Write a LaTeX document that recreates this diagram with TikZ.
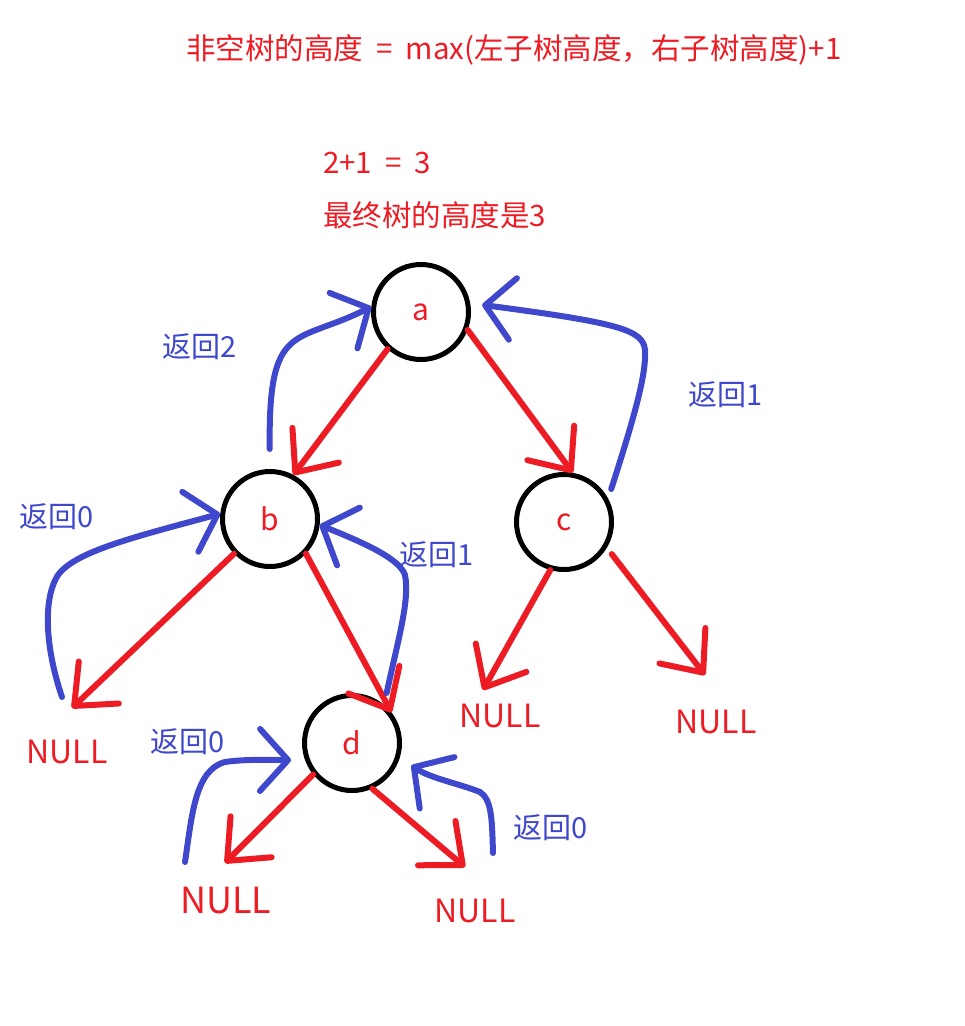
\documentclass[tikz,border=0pt]{standalone}
\usepackage{fontspec}
\setmainfont{Noto Sans CJK SC}
\usetikzlibrary{positioning}
\usetikzlibrary{calc}
\usetikzlibrary{arrows.meta}
\definecolor{paintred}{RGB}{237,28,36}
\definecolor{paintblue}{RGB}{63,72,204}

\begin{document}
\begin{tikzpicture}[x=1pt,y=-1pt,
    treenode/.style={draw, circle, line width=5pt, minimum size=95pt, inner sep=0pt, text=paintred, font=\fontsize{30}{36}\selectfont},
    nulltxt/.style={text=paintred, inner sep=0pt, font=\fontsize{32}{38}\selectfont},
    backtxt/.style={text=paintblue, inner sep=0pt, font=\fontsize{29}{34}\selectfont},
    notetxt/.style={text=paintred, inner sep=0pt, font=\fontsize{29.5}{34}\selectfont},
    callarrow/.style={draw=paintred, line width=6pt, line cap=round, -{Straight Barb[length=34pt, width=58pt, round]}},
    backarrow/.style={draw=paintblue, line width=6pt, line cap=round, -{Straight Barb[length=28pt, width=62pt, round]}}]
            \useasboundingbox (0,0) rectangle (965,1026);

            % Texto
            \node [notetxt] (title) at (514,50) {非空树的高度\hspace{13pt}=\hspace{13pt}max(左子树高度，右子树高度)+1};
            \node [notetxt, anchor=west] (sum) at (323,163) {2+1\hspace{13pt}=\hspace{13pt}3};
            \node [notetxt, anchor=west] (result) at (323,215) {最终树的高度是3};

            % Nós
            \node [treenode] (a) at (421,312) {a};
            \node [treenode] (b) at (270,519) {b};
            \node [treenode] (c) at (564,522) {c};
            \node [treenode] (d) at (352,743) {d};

            \node [nulltxt] (null_bl) at (67,752) {NULL};
            \node [nulltxt] (null_cl) at (500,716) {NULL};
            \node [nulltxt] (null_cr) at (716,722) {NULL};
            \node [nulltxt, font=\fontsize{36}{42}\selectfont] (null_dl) at (226,901) {NULL};
            \node [nulltxt] (null_dr) at (475,911) {NULL};

            \coordinate (bl_tip) at (72,708);
            \coordinate (cl_tip) at (483,690);
            \coordinate (cr_tip) at (705,675);
            \coordinate (dl_tip) at (225,863);
            \coordinate (dr_tip) at (465,867);

            \coordinate (bl_back) at (62,697);
            \coordinate (dl_back) at (185,862);
            \coordinate (dr_back) at (493,853);

            % Chamadas
            \draw [callarrow] (a.228) -- (b.62);
            \draw [callarrow] (a.-21) -- (c.80);
            \draw [callarrow] (b.224) -- (bl_tip);
            \draw [callarrow] (b.-44) -- (d.38);
            \draw [callarrow] (c.254) -- (cl_tip);
            \draw [callarrow, shorten <=8pt] (c.-31) -- (cr_tip);
            \draw [callarrow] (d.219) -- (dl_tip);
            \draw [callarrow] (d.-66) -- (dr_tip);

            % Retornos
            \draw [backarrow, shorten <=20pt] (b.90) .. controls (268,320) and (295,345) .. (a.174);
            \draw [backarrow, shorten <=10pt, shorten >=12pt] (c.28) .. controls (640,400) and (646,370) .. (645,350) .. controls (643,330) and (620,323) .. (a.10);
            \draw [backarrow] (bl_back) .. controls (46,650) and (42,600) .. (58,575) .. controls (75,552) and (130,538) .. (b.174);
            \draw [backarrow, shorten <=12pt] (d.50) .. controls (398,640) and (410,600) .. (405,575) .. controls (400,560) and (370,545) .. (b.-7);
            \draw [backarrow, shorten >=14pt] (dl_back) .. controls (192,815) and (195,770) .. (225,762) .. controls (245,759) and (270,760) .. (d.200);
            \draw [backarrow, shorten >=14pt] (dr_back) .. controls (492,820) and (492,800) .. (480,792) .. controls (460,784) and (430,778) .. (d.-17);

            \node [backtxt] (ret_a_l) at (200,347) {返回2};
            \node [backtxt] (ret_a_r) at (726,395) {返回1};
            \node [backtxt] (ret_b_l) at (57,517) {返回0};
            \node [backtxt] (ret_b_r) at (437,555) {返回1};
            \node [backtxt] (ret_d_l) at (188,742) {返回0};
            \node [backtxt] (ret_d_r) at (551,828) {返回0};
        \end{tikzpicture}
\end{document}
